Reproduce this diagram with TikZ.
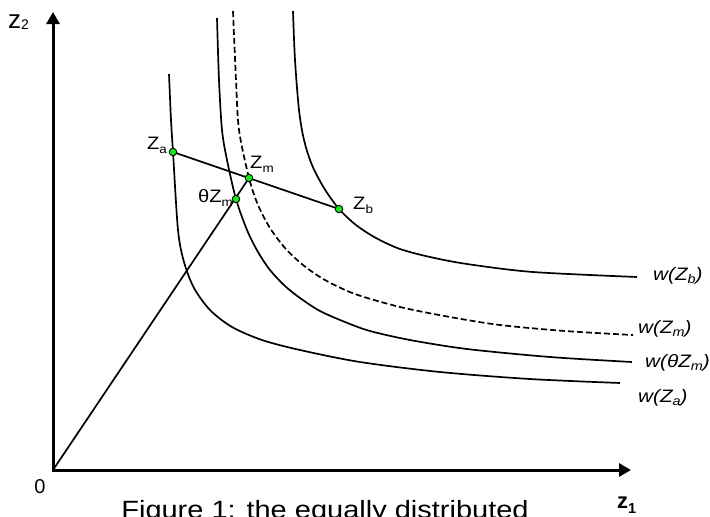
\documentclass[tikz,border=0pt]{standalone}
\usepackage{fontspec}
\setmainfont{Liberation Sans}
\newfontfamily\lbl[FakeStretch=1.12]{Liberation Sans}
\newfontfamily\wlbl[FakeStretch=1.15]{Liberation Sans Italic}
\newfontfamily\caplbl[FakeStretch=1.16]{Liberation Sans}
\usetikzlibrary{arrows.meta}
\definecolor{dotgreen}{RGB}{20,235,20}
\newcommand{\zsub}[1]{\raisebox{-4pt}{\fontsize{12}{12}\selectfont #1}}
\newcommand{\wsub}[1]{\raisebox{-3.5pt}{\fontsize{12.5}{12.5}\selectfont #1}}
\begin{document}
\begin{tikzpicture}[x=1pt,y=-1pt,
  axis/.style={line width=3pt,{Triangle[length=12pt,width=13pt]}-{Triangle[length=12pt,width=13pt]}},
  icurve/.style={line width=1.7pt},
  dcurve/.style={line width=1.7pt,dash pattern=on 6pt off 3pt},
  seg/.style={line width=1.7pt},
  dot/.style={circle,draw=black,line width=0.9pt,fill=dotgreen,minimum size=7.5pt,inner sep=0pt},
  zlab/.style={font=\lbl\fontsize{18}{18}\selectfont,inner sep=0pt},
  wlab/.style={font=\wlbl\fontsize{18}{18}\selectfont,inner sep=0pt,anchor=base west}]
\useasboundingbox (0,0) rectangle (710,517);
% axes
\coordinate (O) at (53,470);
\coordinate (ytip) at (53,12);
\coordinate (xtip) at (631,470);
\draw[axis] (ytip) -- (O) -- (xtip);
% indifference curves
\draw[icurve] plot[smooth,tension=0.5] coordinates {(169,74) (171,120) (173,152) (178,230) (184,262) (194,288) (210,310) (232,327) (262,340) (300,350) (360,362) (440,372) (530,379) (620,383)};
\draw[icurve] plot[smooth,tension=0.5] coordinates {(217,18) (219,80) (222,130) (227,160) (236,199) (247,230) (258,252) (270,270) (285,286) (300,298) (320,311) (345,322) (370,331) (410,340) (467,349) (550,357) (632,362)};
\draw[dcurve] plot[smooth,tension=0.5] coordinates {(233,11) (236,80) (239,130) (249,178) (258,205) (270,228) (285,248) (303,265) (325,280) (355,294) (400,307) (450,317) (500,325) (565,331) (633,335)};
\draw[icurve] plot[smooth,tension=0.5] coordinates {(293,11) (295,60) (299,110) (304,140) (312,165) (324,188) (339,209) (356,225) (376,238) (400,249) (430,257) (467,264) (533,272) (637,277)};
% points
\coordinate (Za) at (173,152);
\coordinate (Zm) at (249,178);
\coordinate (tZm) at (236,199);
\coordinate (Zb) at (339,209);
\draw[seg] (Za) -- (Zb);
\draw[seg] (O) -- (Zm);
\node[dot] (ZaDot) at (Za) {};
\node[dot] (ZmDot) at (Zm) {};
\node[dot] (tZmDot) at (tZm) {};
\node[dot] (ZbDot) at (Zb) {};
% point labels
\node[zlab,anchor=base east] (ZaLab) at (167,149) {Z\zsub{a}};
\node[zlab,anchor=base west] (ZmLab) at (250,168) {Z\zsub{m}};
\node[zlab,anchor=base east] (tZmLab) at (233,202) {θZ\zsub{m}};
\node[zlab,anchor=base west] (ZbLab) at (353,209) {Z\zsub{b}};
% curve labels
\node[wlab] (wb) at (653,280) {w(Z\wsub{b})};
\node[wlab] (wm) at (638,333) {w(Z\wsub{m})};
\node[wlab] (wt) at (645,367) {w(θZ\wsub{m})};
\node[wlab] (wa) at (638,402) {w(Z\wsub{a})};
% axis labels
\node[inner sep=0pt,anchor=base west] (z2) at (8,28) {{\fontsize{26}{26}\selectfont z}\raisebox{-1pt}{\fontsize{14}{14}\selectfont 2}};
\node[inner sep=0pt,anchor=base west] (z1) at (617,508) {{\bfseries\fontsize{22}{22}\selectfont z}\raisebox{-5.5pt}{\bfseries\fontsize{14.5}{14.5}\selectfont 1}};
\node[inner sep=0pt,font=\fontsize{20}{20}\selectfont] (zero) at (40,487) {0};
% caption (cut off at the bottom)
\node[inner sep=0pt,anchor=base,font=\caplbl\fontsize{25}{25}\selectfont] (cap) at (325,518) {Figure 1: the equally distributed};
\end{tikzpicture}
\end{document}
